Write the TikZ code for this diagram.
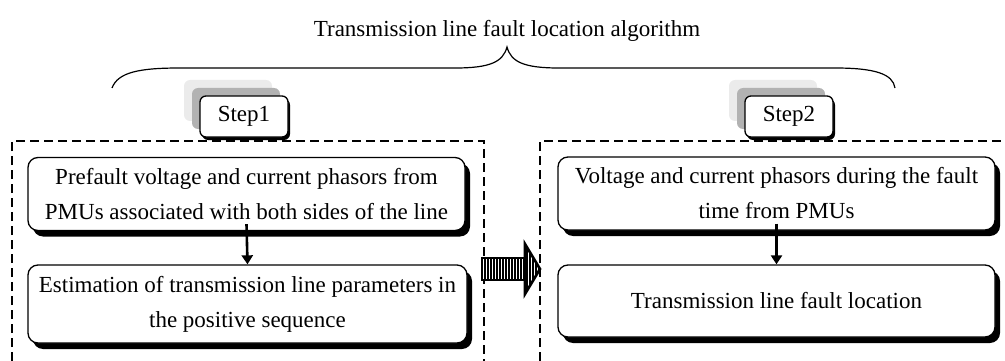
\documentclass[tikz,border=0pt]{standalone}
\usepackage{fontspec}
\setmainfont{Liberation Serif}
\usetikzlibrary{shadows,arrows.meta}

\tikzset{
  txt/.style={font=\fontsize{23}{35}\selectfont, align=center, inner sep=0pt},
  stage/.style={txt, draw, line width=1.3pt, fill=white, rounded corners=10pt,
    drop shadow={shadow xshift=5pt, shadow yshift=-6pt, fill=black, opacity=1}},
  steplabel/.style={txt, draw, line width=1.3pt, fill=white, rounded corners=6pt,
    minimum width=88pt, minimum height=41pt,
    drop shadow={shadow xshift=-16pt, shadow yshift=16pt, fill=black!8, opacity=1},
    drop shadow={shadow xshift=-8pt, shadow yshift=8pt, fill=black!30, opacity=1},
    drop shadow={shadow xshift=2pt, shadow yshift=-3pt, fill=black, opacity=1}},
  groupbox/.style={line width=1.6pt, dash pattern=on 9pt off 5pt},
  flow/.style={line width=2.6pt, -{Triangle[width=11pt,length=9pt]}}
}

\begin{document}
\begin{tikzpicture}[x=1pt, y=-1pt]
\useasboundingbox (0,0) rectangle (1005,361);
\clip (0,0) rectangle (1005,361);

% title and brace
\node[txt, anchor=base] (title) at (507,37) {Transmission line fault location algorithm};
\draw[line width=1.2pt]
  (112,88) .. controls (118,72) and (140,68) .. (180,68) -- (455,68)
  .. controls (490,68) and (503,62) .. (507,47)
  .. controls (511,62) and (524,68) .. (559,68) -- (835,68)
  .. controls (875,68) and (893,74) .. (895,88);

% dashed group frames
\draw[groupbox] (12,375) -- (12,141) -- (484,141) -- (484,375);
\draw[groupbox] (540,375) -- (540,141) -- (1015,141);

% step labels
\node[steplabel] (s1) at (244,116.5) {Step1};
\node[steplabel] (s2) at (789,116.5) {Step2};

% stages of step 1
\node[stage, minimum width=437pt, minimum height=73pt] (a1) at (246.5,194)
  {Prefault voltage and current phasors from\\PMUs associated with both sides of the line};
\node[stage, minimum width=439pt, minimum height=78pt] (a2) at (247.5,304)
  {Estimation of transmission line parameters in\\the positive sequence};

% stages of step 2
\node[stage, minimum width=437pt, minimum height=73pt] (b1) at (776.5,193.5)
  {Voltage and current phasors during the fault\\time from PMUs};
\node[stage, minimum width=437pt, minimum height=72pt] (b2) at (776.5,301)
  {Transmission line fault location};

\draw[flow] ([yshift=7pt]a1.south) -- (a2.north);
\draw[flow] ([yshift=7pt]b1.south) -- (b2.north);

% striped block arrow from step 1 to step 2
\coordinate (p) at (482,258);
\fill[white] (482,258) rectangle (525,280);
\foreach \x in {485,488,...,524} \draw[line width=1.4pt] (\x,258) -- (\x,280);
\draw[line width=1.8pt] (482,258) rectangle (525,280);
\begin{scope}
  \clip (525,244) -- (540,269) -- (525,294) -- cycle;
  \fill[white] (520,240) rectangle (545,300);
  \foreach \x in {527,530,...,539} \draw[line width=1.4pt] (\x,240) -- (\x,300);
\end{scope}
\draw[line width=2.6pt, line join=miter] (525,244) -- (540,269) -- (525,294) -- cycle;
\end{tikzpicture}
\end{document}
